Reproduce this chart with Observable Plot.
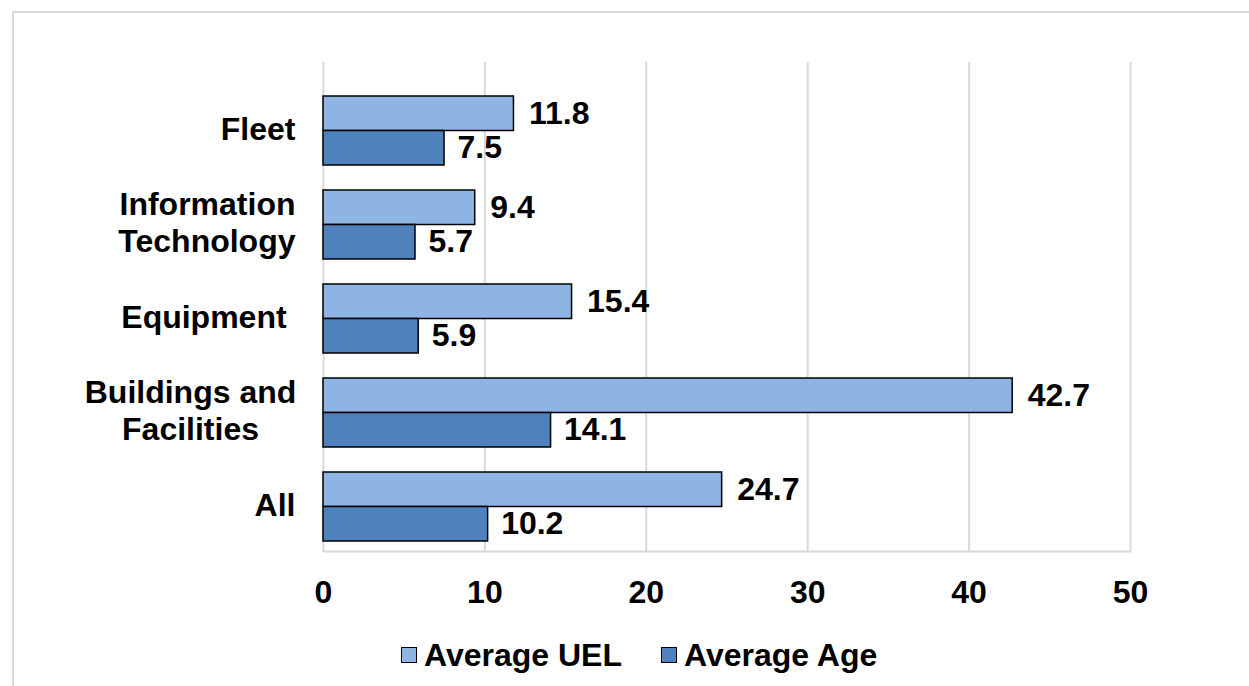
<!DOCTYPE html>
<html>
<head>
<meta charset="utf-8">
<script src="https://cdn.jsdelivr.net/npm/d3@7"></script>
<script src="https://cdn.jsdelivr.net/npm/@observablehq/plot@0.6"></script>
<style>
  html, body { margin: 0; padding: 0; background: #fff; overflow: hidden; }
  body { width: 1249px; height: 686px; position: relative; font-family: "Liberation Sans", Arial, sans-serif; }
  #border { position: absolute; left: 12px; top: 11px; width: 1300px; height: 800px;
            border-left: 2px solid #d9d9d9; border-top: 2px solid #d9d9d9; }
  #chart { position: absolute; left: 0; top: 0; }
  #chart svg text { white-space: pre; }
  #legend { position: absolute; left: 401px; top: 636px; display: flex; align-items: center;
            font-weight: bold; font-size: 32px; color: #000; line-height: 38px; }
  .item { display: flex; align-items: center; margin-right: 39px; }
  .sw { width: 14px; height: 14px; border: 1.5px solid #000; margin-right: 7px; }
</style>
</head>
<body>
<div id="border"></div>
<div id="chart"></div>
<div id="legend"></div>
<script>
const categories = ["Fleet", "Information Technology", "Equipment", "Buildings and Facilities", "All"];
const tickLabels = ["Fleet", "Information\nTechnology", "Equipment ", "Buildings and\nFacilities", "All"];
const averageUEL = [11.8, 9.4, 15.4, 42.7, 24.7];
const averageAge = [7.5, 5.7, 5.9, 14.1, 10.2];
const seriesNames = ["Average UEL", "Average Age"];
const seriesColors = ["#8EB4E3", "#4F81BD"];
const xTicks = [0, 10, 20, 30, 40, 50];

const rows = categories.map((c, i) => ({category: c, label: tickLabels[i], uel: averageUEL[i], age: averageAge[i]}));
const isCentered = d => d.category === "Buildings and Facilities";

const chart = Plot.plot({
  width: 1249,
  height: 615,
  marginLeft: 323,
  marginRight: 119,
  marginTop: 62,
  marginBottom: 64,
  style: {fontFamily: "'Liberation Sans', Arial, sans-serif", fontSize: "32px", fontWeight: "bold", color: "#000", background: "transparent"},
  x: {domain: [0, 50], axis: null},
  y: {domain: categories, axis: null, paddingInner: 0.27, paddingOuter: 0.222, align: 0.76},
  marks: [
    Plot.ruleX(xTicks, {stroke: "#d9d9d9", strokeWidth: 2}),
    Plot.frame({anchor: "bottom", stroke: "#d9d9d9", strokeWidth: 2}),
    Plot.barX(rows, {y: "category", x: "uel", fill: seriesColors[0], stroke: "#000", strokeWidth: 1.5, insetBottom: 34.5}),
    Plot.barX(rows, {y: "category", x: "age", fill: seriesColors[1], stroke: "#000", strokeWidth: 1.5, insetTop: 34.5}),
    Plot.text(rows, {y: "category", x: "uel", text: d => d.uel.toFixed(1), dy: -17, dx: 15, textAnchor: "start", fill: "#000"}),
    Plot.text(rows, {y: "category", x: "age", text: d => d.age.toFixed(1), dy: 17, dx: 13, textAnchor: "start", fill: "#000"}),
    Plot.axisX({ticks: xTicks, tickSize: 0, tickPadding: 29, tickFormat: d => String(d), label: null, fill: "#000"}),
    Plot.text(rows.filter(d => !isCentered(d)), {y: "category", frameAnchor: "left", text: "label", textAnchor: "end", dx: -28, dy: -3, lineHeight: 1.16, fill: "#000"}),
    Plot.text(rows.filter(isCentered), {y: "category", frameAnchor: "left", text: "label", textAnchor: "middle", dx: -133, dy: -3, lineHeight: 1.16, fill: "#000"})
  ]
});
document.getElementById("chart").appendChild(chart);

const legend = document.getElementById("legend");
seriesNames.forEach((name, i) => {
  const item = document.createElement("div");
  item.className = "item";
  const sw = document.createElement("div");
  sw.className = "sw";
  sw.style.background = seriesColors[i];
  const label = document.createElement("span");
  label.textContent = name;
  item.appendChild(sw);
  item.appendChild(label);
  legend.appendChild(item);
});
</script>
</body>
</html>
